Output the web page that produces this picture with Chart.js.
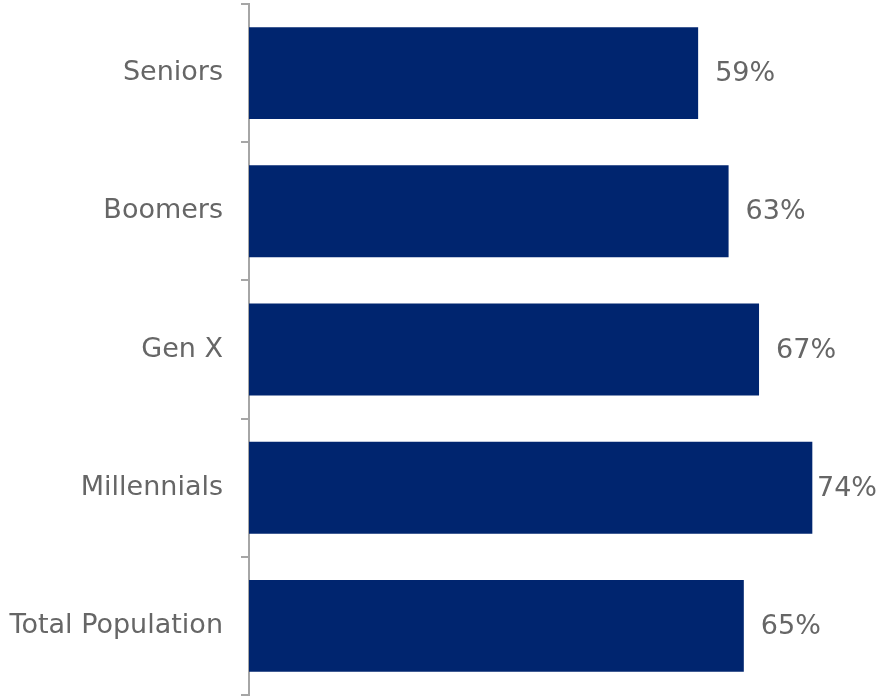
<!DOCTYPE html>
<html>
<head>
<meta charset="utf-8">
<script src="https://cdn.jsdelivr.net/npm/chart.js@4/dist/chart.umd.min.js"></script>
<style>
  html, body { margin: 0; padding: 0; background: #fff; }
  #wrap { width: 879px; height: 698px; }
</style>
</head>
<body>
<div id="wrap"><canvas id="myChart"></canvas></div>
<script>
var groups = ["Seniors", "Boomers", "Gen X", "Millennials", "Total Population"];
var shares = [59, 63, 67, 74, 65];

var labelFont = { family: "'DejaVu Sans', Verdana, sans-serif", size: 27 };
var textGrey = '#666666';

// percent labels at the end of each bar, pulled in if they would run off the canvas
var valueLabels = {
    id: 'valueLabels',
    afterDatasetsDraw: function (chart) {
        var ctx = chart.ctx;
        var meta = chart.getDatasetMeta(0);
        ctx.save();
        ctx.font = labelFont.size + 'px ' + labelFont.family;
        ctx.fillStyle = textGrey;
        ctx.textAlign = 'left';
        ctx.textBaseline = 'middle';
        meta.data.forEach(function (bar, i) {
            var txt = shares[i] + '%';
            var w = ctx.measureText(txt).width;
            var x = Math.min(bar.x + 17, chart.width - w - 2);
            ctx.fillText(txt, x, bar.y + 1);
        });
        ctx.restore();
    }
};

var ctx = document.getElementById('myChart').getContext('2d');

var chart = new Chart(ctx, {
    type: 'bar',
    data: {
        labels: groups,
        datasets: [{
            data: shares,
            backgroundColor: '#00256f',
            borderWidth: 0,
            barPercentage: 0.665,
            categoryPercentage: 1
        }]
    },
    options: {
        indexAxis: 'y',
        responsive: true,
        maintainAspectRatio: false,
        animation: false,
        layout: { padding: { top: 4, bottom: 3, left: 0, right: 21 } },
        plugins: {
            legend: { display: false },
            tooltip: { enabled: false }
        },
        scales: {
            x: {
                display: false,
                min: 0,
                max: 80
            },
            y: {
                afterFit: function (scale) {
                    scale.width = 249;
                    scale.paddingTop = 0;
                    scale.paddingBottom = 0;
                },
                border: { color: '#a6a6a6', width: 2 },
                grid: {
                    offset: true,
                    drawOnChartArea: false,
                    tickLength: 8,
                    color: '#a6a6a6',
                    lineWidth: 2
                },
                ticks: {
                    color: textGrey,
                    font: labelFont,
                    padding: 18
                }
            }
        }
    },
    plugins: [valueLabels]
});
</script>
</body>
</html>
